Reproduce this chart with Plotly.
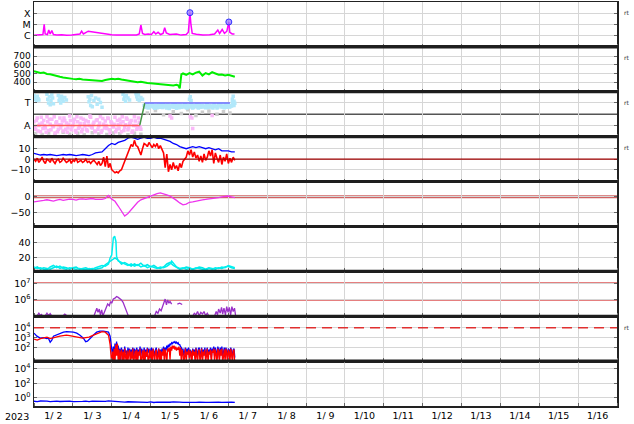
import numpy as np
import pandas as pd
import plotly.graph_objects as go
from plotly.subplots import make_subplots

T0 = pd.Timestamp("2023-01-02 00:00")
T_END = pd.Timestamp("2023-01-17 00:00")

day_labels = ["1/ 2", "1/ 3", "1/ 4", "1/ 5", "1/ 6", "1/ 7", "1/ 8", "1/ 9",
              "1/10", "1/11", "1/12", "1/13", "1/14", "1/15", "1/16"]

# ---- panel 1 : X-ray flux (log10 W/m2) ----
xr_h = [0, 1.8, 3.8, 5.5, 6.3, 6.9, 8.3, 9.1, 10.0, 11.0, 12.0, 14.1, 17.1, 20.2, 23.3, 26.4, 28.4, 29.4, 30.5, 33.5,
        35.6, 38.7, 41.8, 44.8, 47.9, 51.0, 55.1, 59.2, 63.3, 65.0, 66.0, 67.0, 68.4, 70.5, 72.5, 74.0, 75.2, 76.6, 78.1, 79.7,
        80.7, 81.7, 83.8, 87.9, 90.9, 94.0, 95.3, 96.3, 96.9, 97.7, 100.2, 104.3, 108.4, 111.5, 113.5, 114.6, 116.2, 117.6, 119.1, 120.3,
        120.9, 122.4, 123.8]
xr_log = [-5.97, -5.95, -5.98, -5.9, -5.0, -5.85, -5.9, -5.5, -5.85, -5.55, -5.9, -5.95, -5.92, -5.97, -5.95, -5.9, -5.85, -5.6, -5.85, -5.6,
          -5.65, -5.72, -5.8, -5.85, -5.92, -5.95, -5.97, -5.95, -5.93, -5.85, -5.05, -5.8, -5.9, -5.85, -5.9, -5.65, -5.85, -5.7, -5.9, -5.8,
          -5.3, -5.75, -5.9, -5.85, -5.95, -5.9, -5.7, -3.95, -5.0, -5.8, -5.88, -5.95, -5.92, -5.85, -5.5, -5.8, -5.45, -5.8, -5.6, -4.78,
          -5.7, -5.85, -5.85]
flare_h = [96.3, 120.3]
flare_log = [-3.95, -4.78]

# ---- panel 2 : solar wind speed (km/s) ----
sw_h = [0, 2, 4, 6, 8, 10, 12, 14, 16, 18, 20, 22, 24, 26, 28, 30, 32, 34, 36, 38, 40, 42, 44, 46, 48, 50, 52, 54, 56, 58,
        60, 62, 64, 66, 68, 70, 72, 74, 76, 78, 80, 82, 84, 86, 88, 89, 90, 91, 92, 94, 96, 98, 100, 102, 104, 106, 108, 110,
        112, 114, 116, 118, 120, 122, 124]
sw_v = [525, 515, 505, 510, 495, 490, 478, 470, 462, 455, 448, 440, 438, 435, 440, 432, 428, 425, 422, 420,
        418, 415, 425, 430, 440, 435, 440, 430, 425, 415, 410, 412, 400, 405, 395, 392, 388, 385, 380, 375,
        370, 368, 365, 362, 370, 365, 330, 490, 500, 485, 505, 490, 510, 520, 475, 505, 490, 515, 500, 485,
        488, 478, 485, 470, 462]

# ---- panel 3 : IMF sector (A = 90, T = 270 deg) ----
sec_blue_h = [0, 0.5, 1, 1.5, 2, 2.5, 3, 8, 8.5, 9, 9.5, 10, 10.5, 11, 11.5, 12, 15, 15.5, 16, 16.5, 17, 17.5, 18, 19, 20,
              33.5, 34, 34.5, 35, 35.5, 36, 37, 38, 39, 40, 41, 42, 55, 55.5, 56, 56.5, 57, 58, 59,
              63, 63.5, 64, 64.5, 65, 66, 67, 96, 96.5, 97, 122.5, 123, 123.5]
sec_blue_v = [330, 300, 315, 290, 325, 305, 295, 340, 300, 270, 320, 255, 290, 335, 310, 265, 330, 290, 310, 270, 325, 300, 285, 315, 295,
              320, 280, 300, 250, 330, 240, 290, 310, 260, 300, 275, 235, 340, 300, 320, 285, 330, 310, 295,
              345, 320, 300, 335, 290, 315, 300, 300, 320, 290, 300, 325, 285]
band_a = [250, 240, 255, 235, 245, 260, 238, 248, 232, 252, 244, 236, 258, 242, 230, 250, 246, 238, 255, 240,
          228, 248, 252, 236, 244, 260, 234, 246, 240, 256, 230, 248, 242, 238, 254, 236, 250, 244, 232, 258,
          240, 246, 236, 252, 242, 230, 256, 248, 238, 244, 262, 236, 250, 240, 246, 258, 268]
band_b = [238, 252, 230, 246, 256, 240, 228, 250, 244, 236, 262, 234, 248, 240, 254, 226, 244, 252, 236, 258,
          242, 232, 250, 246, 238, 256, 230, 248, 240, 252, 236, 244, 258, 230, 246, 250, 238, 242, 256, 234,
          248, 240, 230, 254, 244, 236, 250, 262, 240, 232, 246, 254, 238, 248, 272, 250]
pink_a = [120, 60, 150, 90, 40, 110, 130, 70, 160, 50, 100, 140, 80, 30, 120, 60, 150, 95, 45, 130,
          110, 70, 165, 55, 90, 140, 35, 120, 80, 150, 60, 105, 130, 45, 90, 155, 70, 115, 40, 135,
          85, 160, 50, 100, 125, 65, 145, 30, 110, 80, 155, 60, 95, 140, 40, 120, 75, 150, 55, 105,
          130, 45, 160, 90, 70, 115, 60]
pink_b = [80, 130, 45, 100, 155, 65, 90, 35, 120, 140, 55, 85, 160, 110, 40, 95, 70, 125, 150, 60,
          35, 100, 130, 80, 115, 50, 160, 65, 105, 40, 140, 85, 55, 120, 165, 75, 100, 45, 130, 60,
          110, 35, 145, 70, 90, 150, 55, 120, 80, 100, 40, 130, 65, 110, 160, 50, 95, 140, 70, 115,
          35, 90, 125, 60, 150, 80]
pink_late_h = [84, 85, 96.5, 97.5, 98, 110]
pink_late_v = [165, 150, 160, 150, 65, 170]
gray_h = [1, 5, 9, 13, 18, 22, 27, 31, 36, 40, 45, 49, 53, 58, 62, 66, 70, 75, 80, 86, 91, 95, 100, 104, 108, 113, 117, 121]
gray_v = [25, 18, 30, 15, 35, 20, 28, 16, 32, 22, 18, 30, 24, 15, 28, 20, 190, 210, 175, 200, 185, 215, 170, 195, 205, 180, 200, 190]
sector_h = [0, 65.3, 68.4, 121]
sector_v = [90, 90, 270, 270]

# ---- panel 4 : IMF Bz (1h) and Bt (2h), nT ----
bz = [0, -2, 1, -3, -1, 2, -2, -4, 0, -1, -3, 1, -2, -4, -1, 0, -3, -2, 1, -1,
      -3, -2, 0, -4, -1, -2, 1, -3, -2, -1, -3, -2, 0, -3, -2, -4, -2, -1, -3, -5,
      -2, -6, -4, 2, -7, 3, -8, -4, -10, -12, -13, -12, -13, -11, -10, -6, -2, 2, 5, 10,
      14, 12, 18, 13, 12, 8, 4, 10, 15, 14, 12, 16, 13, 11, 14, 12, 15, 10, 13, 9,
      6, -8, 5, -12, -5, -10, -3, -9, -6, -11, -4, -8, -2, 0, 2, 8, 4, 9, 2, 7,
      1, 4, -2, 3, -3, 5, -1, 2, 8, 3, 9, -4, 6, 1, -3, 4, -5, 2, -2, 5,
      -4, 1, -3, 2, -1]
bt = [5.5, 4.5, 4, 4.5, 4, 4.5, 4, 3.5, 4, 4.5, 4, 4.5, 4, 3.5, 4, 4.5, 4, 3.5, 4.5, 6,
      6.5, 7, 10, 13, 15, 14, 16, 17, 18, 20, 21, 20, 19, 20, 21, 20, 20, 21, 20, 20,
      19, 18, 17, 15, 14, 12, 11, 10, 11, 12, 11, 12, 11, 10, 11, 10, 9, 10, 8, 8,
      8, 7, 7]

# ---- panel 5 : Dst (2h), nT ----
dst = [-17, -16, -14, -12, -10, -12, -14, -11, -9, -12, -10, -8, -9, -11, -8, -7, -9, -7, -6, -9,
       -10, -9, -6, 4, -8, -15, -30, -45, -62, -54, -42, -30, -18, -10, -6, -2, 2, 7, 10, 12,
       10, 6, 2, -4, -12, -20, -26, -24, -18, -17, -14, -13, -10, -9, -8, -6, -5, -3, -1, 1,
       2, -1, -3]

# ---- panel 6 : two cyan series ----
cyA_h = [0, 2, 4, 6, 8, 10, 12, 14, 16, 18, 20, 22, 24, 26, 28, 30, 32, 34, 36, 38, 40, 42, 44, 46,
         47, 48, 49, 49.8, 50.6, 51, 52, 54, 56, 58, 60, 62, 64, 66, 68, 70, 72, 74, 76, 78, 80, 82, 84,
         85, 86, 88, 90, 92, 94, 96, 98, 100, 102, 104, 106, 108, 110, 112, 114, 116, 118, 120, 122, 124]
cyA_v = [7, 5, 6, 4, 3.5, 7, 9, 6, 8, 5, 4, 6, 5, 4, 5, 4, 3.5, 5, 4, 6, 7, 9, 8, 11,
         19, 23, 46, 48, 41, 21, 15, 13, 11, 9, 11, 8, 10, 7, 9, 6, 8, 6, 5, 7, 6, 8, 11,
         15, 12, 7, 5, 6, 4, 5, 4, 6, 5, 4, 3, 5, 4, 6, 5, 7, 6, 9, 8, 6]
cyB = [5, 7, 4, 6, 5, 4, 6, 8, 5, 7, 6, 4, 6, 7, 4, 5, 6, 4, 5, 4,
       5, 6, 10, 13, 17, 19, 16, 11, 13, 10, 8, 11, 9, 12, 8, 10, 7, 9, 6, 5,
       7, 11, 13, 9, 6, 4, 5, 7, 6, 4, 5, 7, 6, 4, 6, 5, 4, 6, 5, 7,
       8, 6, 5]

# ---- panel 7 : purple (log10), None = gap ----
pp_h = [2, 3, 4, 5, None, 7, 8, 9, 10, 11, None, 18, 19, 20, 21, None,
        37, 38, 38.8, 39.5, 40.3, 41, 41.8, 42.5, 43.5, 44.5, 45.5, 46.5, 47.3, 48, 49, 50, 51, 52, 53, 54, 55, 56, 57, 58, 59, None,
        74.5, 75.5, 76.5, 77.5, 78.5, 79.5, 80.5, 81, 81.8, 82.5, 83.3, 84, 85, None,
        88.5, 90, 91.5, None,
        98, 99, 100, 101, 102, 103, 104, 105, 106, 107, 108, None,
        111.5, 112.5, 113.3, 114, 115, 115.8, 116.5, 117.3, 118.2, 119, 119.8, 120.6, 121.4, 122.2, 123, 123.8, 124.5]
pp_log = [5.05, 5.2, 5.05, 5.15, None, 5.05, 5.2, 5.05, 5.18, 5.03, None, 5.05, 5.15, 5.08, 5.03, None,
          5.03, 5.3, 5.5, 5.25, 5.45, 5.1, 5.4, 5.03, 5.3, 5.6, 5.75, 5.65, 5.9, 5.8, 6.05, 6.1, 6.2, 6.15, 6.1, 6.0, 5.85, 5.6, 5.35, 5.1, 5.02, None,
          5.05, 5.3, 5.2, 5.45, 5.35, 5.6, 5.9, 6.05, 5.7, 6.0, 5.8, 5.9, 5.75, None,
          5.75, 5.8, 5.72, None,
          5.03, 5.2, 5.1, 5.3, 5.05, 5.25, 5.15, 5.3, 5.05, 5.2, 5.03, None,
          5.03, 5.3, 5.1, 5.45, 5.2, 5.55, 5.15, 5.5, 5.1, 5.6, 5.25, 5.55, 5.1, 5.6, 5.3, 5.5, 5.05]

# ---- panel 8 : electron flux (log10), blue & red ----
eb_h = [0, 1.8, 3.8, 5.9, 7.9, 8.9, 10, 11, 12, 14, 16, 18.2, 20.2, 22.3, 24.3, 26.4, 28.4, 30.5, 31.9, 33,
        34.6, 36.6, 38.7, 40.7, 42.8, 44.8, 46, 47, 47.7]
eb_log = [3.45, 3.15, 2.95, 3.0, 2.9, 2.95, 2.55, 2.75, 3.15, 3.3, 3.4, 3.55, 3.6, 3.6, 3.55, 3.45, 3.25, 2.95, 2.6, 2.65,
          2.95, 3.25, 3.55, 3.65, 3.65, 3.6, 3.55, 3.15, 1.9]
er_h = [0, 2, 4, 6, 8, 10, 12, 14, 16, 18, 20, 22, 24, 26, 28, 30, 32, 34, 36, 38, 40, 42, 44, 46, 47, 47.5]
er_log = [2.85, 2.75, 2.9, 2.95, 3.05, 2.9, 3.0, 3.1, 3.15, 3.2, 3.25, 3.2, 3.15, 3.1, 3.05, 2.95, 3.0, 3.05, 3.2, 3.35,
          3.5, 3.6, 3.55, 3.25, 2.3, 0.3]
# half-hourly from 48 h to 124 h
red_late = [0.3, 1.6, 0.4, 1.9, 0.5, 2.3, 1.2, 2.4, 0.6, 1.8, 0.4, 1.5, 1.8, 0.5, 1.6, 0.3, 1.9, 1.2, 0.4, 1.7,
            0.6, 1.5, 1.8, 0.3, 1.6, 0.9, 1.9, 0.4, 1.4, 1.7, 0.5, 1.8, 0.4, 1.6, 1.2, 1.9, 0.3, 1.5, 1.7, 0.6,
            1.8, 0.4, 1.6, 1.1, 1.9, 0.3, 1.5, 1.8, 0.5, 1.7, 0.4, 1.9, 1.3, 0.5, 1.6, 1.8, 0.3, 1.5, 1.9, 0.6,
            1.7, 0.4, 1.6, 1.2, 1.9, 0.5, 1.8, 1.4, 0.4, 1.9, 1.6, 2.0, 0.8, 2.1, 1.7, 2.2, 1.9, 2.2, 1.8, 2.1,
            1.7, 2.0, 1.8, 2.1, 1.2, 2.0, 0.5, 1.8, 1.4, 0.4, 1.7, 1.9, 0.5, 1.6, 1.3, 1.8, 0.4, 1.7, 1.5, 0.3,
            1.8, 1.2, 1.6, 0.5, 1.9, 1.4, 0.4, 1.7, 1.8, 0.6, 1.5, 1.9, 0.3, 1.6, 1.2, 1.8, 0.5, 1.7, 1.9, 0.4,
            1.6, 1.3, 1.8, 0.3, 1.7, 1.5, 1.9, 0.6, 1.8, 1.4, 0.4, 1.9, 1.6, 0.5, 1.8, 1.2, 1.9, 0.4, 1.7, 1.8,
            0.6, 1.9, 1.5, 0.3, 1.8, 1.6, 0.5, 1.9, 1.4, 0.4, 1.7, 1.8, 0.3]
blue_late = [1.9, 1.2, 2.1, 1.0, 2.4, 1.5, 2.6, 1.3, 2.2, 1.1, 1.9, 0.8, 2.0, 1.4, 1.8, 1.0, 2.1, 1.5, 1.7, 0.9,
             2.0, 1.3, 1.9, 1.1, 1.8, 1.6, 2.0, 0.9, 1.9, 1.4, 1.7, 2.0, 1.0, 1.8, 1.5, 2.1, 1.2, 1.9, 1.6, 1.0,
             2.0, 1.4, 1.8, 1.1, 2.0, 1.5, 1.9, 1.2, 1.7, 2.0, 1.0, 1.9, 1.6, 1.2, 1.8, 2.0, 1.1, 1.7, 1.9, 1.3,
             1.8, 1.0, 1.9, 1.6, 2.1, 1.3, 2.0, 1.7, 2.2, 1.9, 2.3, 2.1, 2.4, 2.3, 2.5, 2.4, 2.55, 2.5, 2.6, 2.45,
             2.55, 2.4, 2.5, 2.3, 2.3, 2.1, 2.0, 1.6, 1.9, 1.2, 1.8, 2.0, 1.1, 1.9, 1.5, 2.0, 1.0, 1.8, 1.6, 1.1,
             1.9, 1.4, 1.8, 1.0, 2.0, 1.6, 1.2, 1.9, 2.0, 1.1, 1.7, 2.0, 1.0, 1.8, 1.5, 2.0, 1.2, 1.9, 2.0, 1.1,
             1.8, 1.6, 2.0, 1.0, 1.9, 1.7, 2.1, 1.2, 2.0, 1.6, 1.1, 2.1, 1.8, 1.0, 2.0, 1.5, 2.1, 1.1, 1.9, 2.0,
             1.2, 2.0, 1.7, 1.0, 1.9, 1.8, 1.1, 2.0, 1.6, 1.0, 1.8, 1.9, 1.0]

# ---- panel 9 : proton flux (log10), 2h ----
p9_log = [-0.45, -0.5, -0.42, -0.48, -0.44, -0.5, -0.46, -0.43, -0.49, -0.45, -0.47, -0.44, -0.5, -0.46, -0.42, -0.48, -0.45, -0.5, -0.44, -0.47,
          -0.43, -0.49, -0.46, -0.4, -0.44, -0.52, -0.55, -0.5, -0.56, -0.52, -0.55, -0.58, -0.53, -0.6, -0.57, -0.6, -0.55, -0.62, -0.58, -0.6,
          -0.56, -0.62, -0.59, -0.55, -0.61, -0.58, -0.6, -0.63, -0.57, -0.6, -0.62, -0.58, -0.55, -0.61, -0.6, -0.57, -0.63, -0.59, -0.6, -0.56,
          -0.62, -0.58, -0.6]

hours_1h = list(range(0, 125))
hours_2h = list(range(0, 125, 2))
hours_half_late = list(np.arange(48.0, 124.01, 0.5))


def T(hs):
    return [T0 + pd.Timedelta(hours=float(h)) if h is not None else None for h in hs]


def P(vals):
    return [10 ** v if v is not None else None for v in vals]


fig = make_subplots(rows=9, cols=1, shared_xaxes=True, vertical_spacing=0)


def line(x, y, color, row, width=1.5, mode="lines", **kw):
    fig.add_trace(go.Scatter(x=x, y=y, mode=mode, line=dict(color=color, width=width),
                             hoverinfo="skip", **kw), row=row, col=1)


def dots(x, y, color, row, size=3.5):
    fig.add_trace(go.Scatter(x=x, y=y, mode="markers",
                             marker=dict(color=color, size=size, symbol="square", line=dict(width=0)),
                             hoverinfo="skip"), row=row, col=1)


# panel 1
line(T(xr_h), P(xr_log), "#ff00ff", 1, 1.5)
fig.add_trace(go.Scatter(x=T(flare_h), y=P(flare_log), mode="markers",
                         marker=dict(size=6, color="rgba(150,120,255,0.75)", line=dict(color="#3030ff", width=1)),
                         hoverinfo="skip"), row=1, col=1)
# panel 2
line(T(sw_h), sw_v, "#00ee00", 2, 2)
# panel 3
dots(T(gray_h), gray_v, "rgb(205,205,205)", 3)
dots(T(hours_1h[:67]), pink_a, "rgb(250,185,248)", 3)
dots([T0 + pd.Timedelta(hours=h + 0.5) for h in range(66)], pink_b, "rgb(250,185,248)", 3)
dots(T(pink_late_h), pink_late_v, "rgb(250,185,248)", 3)
dots(T(sec_blue_h), sec_blue_v, "rgb(178,232,250)", 3)
dots(T(list(range(68, 125))), band_a, "rgb(178,232,250)", 3)
dots([T0 + pd.Timedelta(hours=h + 0.5) for h in range(68, 124)], band_b, "rgb(178,232,250)", 3)
line(T(sector_h[0:2]), sector_v[0:2], "rgb(255,90,90)", 3, 1.5)
line(T(sector_h[1:3]), sector_v[1:3], "rgb(70,150,70)", 3, 1.5)
line(T(sector_h[2:4]), sector_v[2:4], "rgb(110,110,255)", 3, 1.5)
# panel 4
line(T(hours_2h), bt, "#0000ff", 4, 1.3)
line(T(hours_1h), bz, "#ff0000", 4, 1.6)
# panel 5
line(T(hours_2h), dst, "#ee33ee", 5, 1.3)
# panel 6
line(T(hours_2h), cyB, "#00e8e8", 6, 1.5)
line(T(cyA_h), cyA_v, "#00f0f0", 6, 1.5)
# panel 7
line(T(pp_h), P(pp_log), "#9a30c8", 7, 1.3, connectgaps=False)
# panel 8
line(T(eb_h + hours_half_late), P(eb_log + blue_late), "#0000ff", 8, 1.3)
line(T(er_h + hours_half_late), P(er_log + red_late), "#ff0000", 8, 1.3)
# panel 9
line(T(hours_2h), P(p9_log), "#0000ff", 9, 1.3)

# reference lines
fig.add_hline(y=180, row=3, col=1, line=dict(color="#555555", width=1.5), layer="below")
fig.add_hline(y=0, row=4, col=1, line=dict(color="#a00000", width=1.3))
fig.add_hline(y=0, row=5, col=1, line=dict(color="rgba(200,70,70,0.85)", width=3), layer="below")
fig.add_hline(y=1e6, row=7, col=1, line=dict(color="#cc0000", width=1.3), layer="below")
fig.add_hline(y=1e7, row=7, col=1, line=dict(color="#cc0000", width=1.3), layer="below")
fig.add_hline(y=1e4, row=8, col=1, line=dict(color="#e03030", width=1.5, dash="10px,6px"))

grid = "#d6d6d6"
yconf = [
    dict(type="log", range=[-7, -3], tickvals=[1e-6, 1e-5, 1e-4], ticktext=["C", "M", "X"]),
    dict(range=[290, 805], tickvals=[400, 500, 600, 700], ticktext=["400", "500", "600", "700"]),
    dict(range=[0, 360], tickvals=[90, 270], ticktext=["A", "T"]),
    dict(range=[-21.3, 21.5], tickvals=[-10, 0, 10], ticktext=["\u221210", "0", "10"]),
    dict(range=[-95.5, 48.4], tickvals=[-50, 0], ticktext=["\u221250", "0"]),
    dict(range=[1.2, 61], tickvals=[20, 40], ticktext=["20", "40"]),
    dict(type="log", range=[5.02, 7.71], tickvals=[1e6, 1e7], ticktext=["10<sup>6</sup>", "10<sup>7</sup>"]),
    dict(type="log", range=[0.65, 5.15], tickvals=[1e2, 1e3, 1e4],
         ticktext=["10<sup>2</sup>", "10<sup>3</sup>", "10<sup>4</sup>"]),
    dict(type="log", range=[-1.1, 5.0], tickvals=[1e0, 1e2, 1e4],
         ticktext=["10<sup>0</sup>", "10<sup>2</sup>", "10<sup>4</sup>"]),
]
for i, yc in enumerate(yconf):
    r = i + 1
    fig.update_yaxes(row=r, col=1, tickmode="array", showgrid=True, gridcolor=grid, gridwidth=1,
                     zeroline=False, showline=True, linecolor="#222222", linewidth=1.5, mirror="ticks",
                     ticks="inside", ticklen=3, tickcolor="#666666", automargin=False,
                     tickfont=dict(size=9.5 if r != 2 else 9, color="black"), **yc)
    fig.update_xaxes(row=r, col=1, type="date", range=[T0, T_END], showgrid=False, automargin=False,
                     tickmode="array", tickvals=[T0 + pd.Timedelta(hours=12 + 24 * k) for k in range(15)],
                     ticktext=day_labels, ticks="", showticklabels=(r == 9),
                     tickfont=dict(size=9.5, color="black"),
                     showline=True, linecolor="#222222", linewidth=1.5, mirror=True,
                     minor=dict(tickmode="linear", tick0=T0, dtick=86400000, showgrid=True,
                                gridcolor=grid, gridwidth=1, ticks="inside", ticklen=3, tickcolor="#666666"))

# thick separators between panels
for k in range(1, 9):
    yk = 1 - k / 9
    fig.add_shape(type="line", xref="paper", yref="paper", x0=0, x1=1, y0=yk, y1=yk,
                  line=dict(color="#1e1e1e", width=3))

# side labels
for ypx in [12, 57, 102, 147, 327]:
    fig.add_annotation(x=1.009, y=(406 - ypx) / 404, xref="paper", yref="paper", text="rt",
                       showarrow=False, xanchor="left", yanchor="middle", font=dict(size=6, color="#333333"))
fig.add_annotation(x=(17 - 34) / 583, y=(406 - 416) / 404, xref="paper", yref="paper", text="2023",
                   showarrow=False, xanchor="center", yanchor="middle", font=dict(size=9.5, color="black"))

fig.update_layout(width=634, height=424, margin=dict(l=34, r=17, t=2, b=18, autoexpand=False),
                  paper_bgcolor="white", plot_bgcolor="white", showlegend=False, hovermode=False,
                  font=dict(family="DejaVu Sans", size=9.5, color="black"))
fig.write_html("out.html", config={"displayModeBar": False, "staticPlot": True},
               post_script="document.body.style.margin='0';document.body.style.overflow='hidden';")
